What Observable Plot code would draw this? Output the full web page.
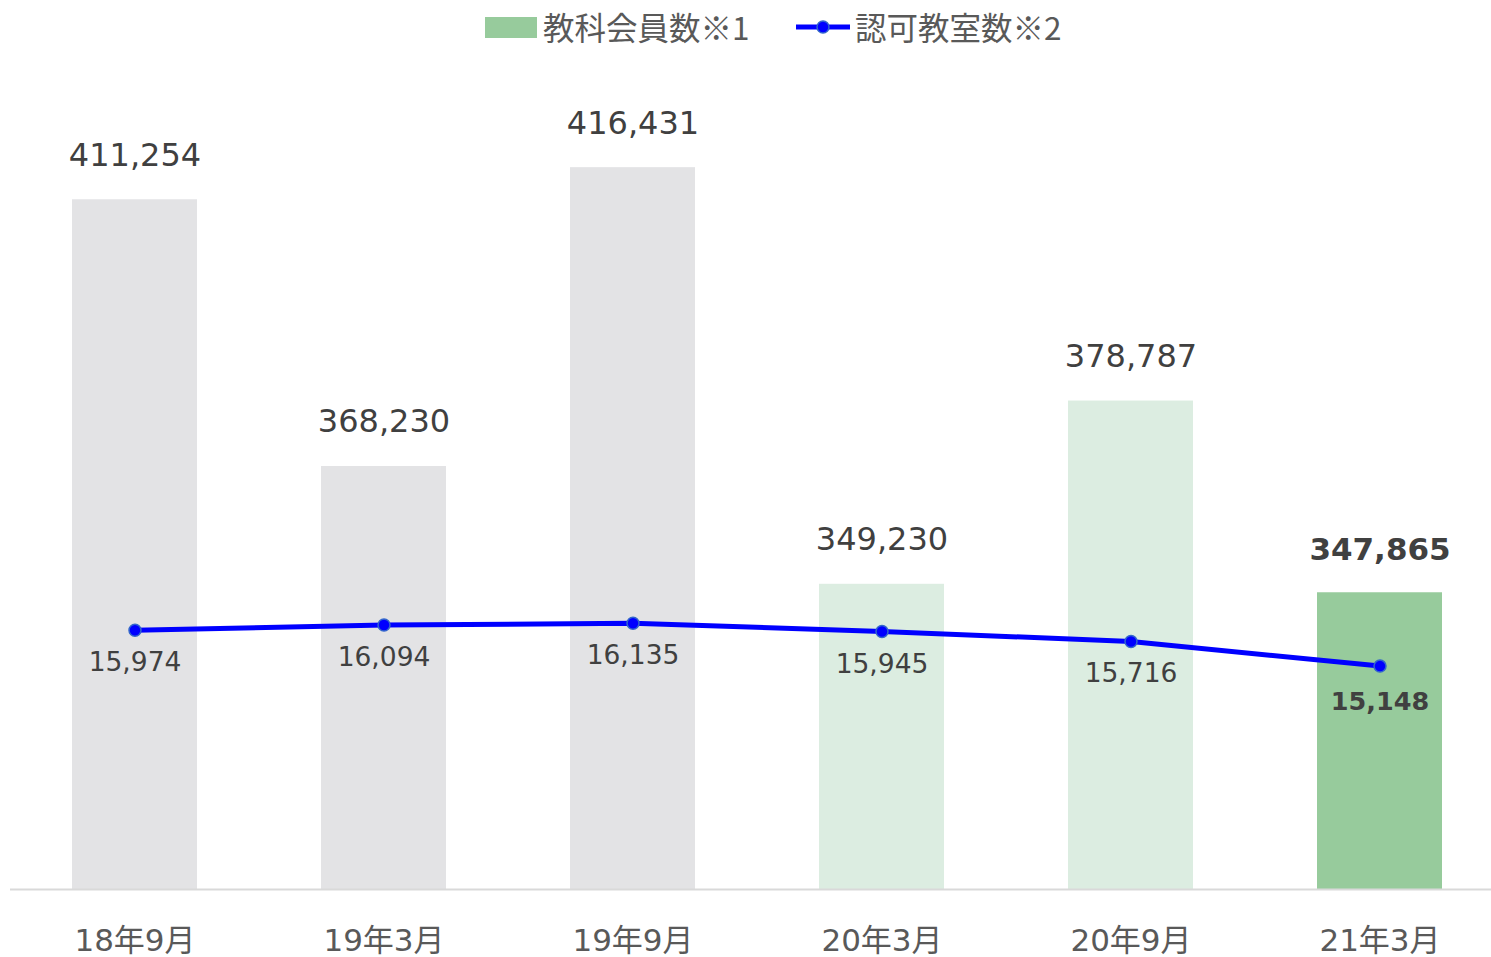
<!DOCTYPE html>
<html>
<head>
<meta charset="utf-8">
<script src="https://cdn.jsdelivr.net/npm/d3@7"></script>
<script src="https://cdn.jsdelivr.net/npm/@observablehq/plot@0.6"></script>
<style>
  body { margin: 0; background: #fff; font-family: "DejaVu Sans", "Noto Sans CJK JP", sans-serif; }
  #legend { position: relative; width: 1491px; height: 56px; }
  .item { position: absolute; top: -2px; height: 56px; display: flex; align-items: center; color: #595959; font-size: 31.5px; font-family: "Noto Sans CJK JP", "DejaVu Sans", sans-serif; }
</style>
</head>
<body>
<div id="legend">
  <div class="item" style="left:485px">
    <span style="display:inline-block;width:52px;height:21px;background:#97cb9c;margin-right:6px;margin-top:2px"></span><span>教科会員数※1</span>
  </div>
  <div class="item" style="left:795px">
    <svg width="56" height="20" style="margin-right:4px;margin-top:2px"><line x1="1" y1="10" x2="55" y2="10" stroke="#0000ff" stroke-width="5"/><circle cx="28" cy="10" r="6" fill="#0000ff" stroke="#3366cc" stroke-width="1.5"/></svg><span>認可教室数※2</span>
  </div>
</div>
<div id="chart"></div>
<script>
const periods = ["18年9月", "19年3月", "19年9月", "20年3月", "20年9月", "21年3月"];
const members = [411254, 368230, 416431, 349230, 378787, 347865];
const classrooms = [15974, 16094, 16135, 15945, 15716, 15148];
const barColors = ["#e3e3e5", "#e3e3e5", "#e3e3e5", "#dcede1", "#dcede1", "#97cb9c"];

// secondary axis mapping: classrooms [10000, 30000] -> members [300000, 440000]
const toPrimary = v => 300000 + (v - 10000) * 7;

const data = periods.map((p, i) => ({
  period: p,
  members: members[i],
  classrooms: classrooms[i],
  cy: toPrimary(classrooms[i]),
  color: barColors[i],
  last: i === periods.length - 1
}));

const fmt = d3.format(",");

const chart = Plot.plot({
  width: 1491,
  height: 901,
  marginTop: 0,
  marginBottom: 68,
  marginLeft: 10,
  marginRight: 0,
  style: { fontFamily: "'DejaVu Sans', 'Noto Sans CJK JP', sans-serif", background: "#fff" },
  x: { domain: periods, range: [9.4, 1504.6], paddingInner: 0.5, paddingOuter: 0.25, label: null },
  y: { domain: [300000, 300000 + 833 * 161.3], axis: null },
  marks: [
    Plot.barY(data, { x: "period", y1: 300000, y2: "members", fill: "color" }),
    Plot.ruleY([300000], { stroke: "#d9d9d9", strokeWidth: 2 }),
    Plot.text(data.filter(d => !d.last), { x: "period", y: "members", text: d => fmt(d.members), dy: -34, lineAnchor: "bottom", fontSize: 32, fill: "#404040" }),
    Plot.text(data.filter(d => d.last), { x: "period", y: "members", text: d => fmt(d.members), dy: -33, lineAnchor: "bottom", fontSize: 31, fontWeight: "bold", fill: "#404040" }),
    Plot.line(data, { x: "period", y: "cy", stroke: "#0000ff", strokeWidth: 5 }),
    Plot.dot(data, { x: "period", y: "cy", r: 6, fill: "#0000ff", stroke: "#3366cc", strokeWidth: 1.5 }),
    Plot.text(data.filter(d => !d.last), { x: "period", y: "cy", text: d => fmt(d.classrooms), dy: 41, lineAnchor: "bottom", fontSize: 26.5, fill: "#404040" }),
    Plot.text(data.filter(d => d.last), { x: "period", y: "cy", text: d => fmt(d.classrooms), dy: 44, lineAnchor: "bottom", fontSize: 25.5, fontWeight: "bold", fill: "#404040" }),
    Plot.axisX({ tickSize: 0, tickPadding: 39, fontSize: 31, fill: "#595959", label: null })
  ]
});
document.getElementById("chart").appendChild(chart);
</script>
</body>
</html>
